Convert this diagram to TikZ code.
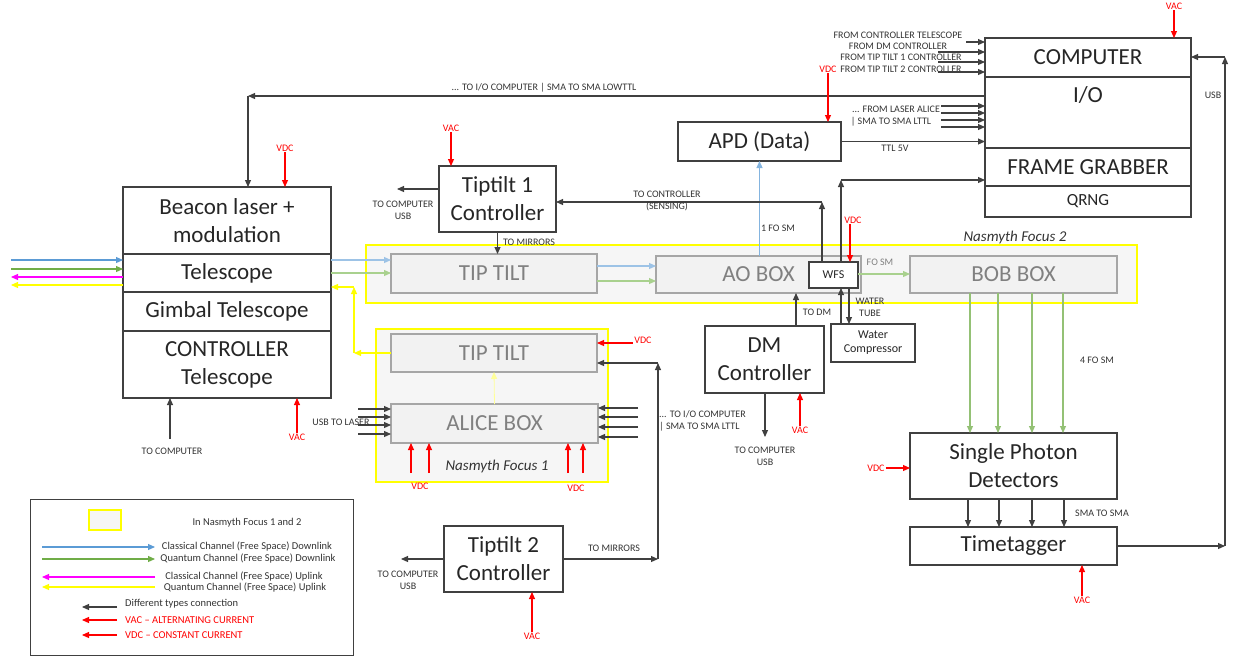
\documentclass[tikz,border=0pt]{standalone}
\usepackage{fontspec}
\setmainfont{Carlito}
\usepackage{tikz}
\usetikzlibrary{positioning,arrows.meta}
\definecolor{boxline}{HTML}{404040}
\definecolor{inline}{HTML}{A6A6A6}
\definecolor{infill}{HTML}{F2F2F2}
\definecolor{intext}{HTML}{808080}
\definecolor{nasfill}{HTML}{F6F6F6}
\definecolor{nasline}{HTML}{FFFF00}
\definecolor{lbltext}{HTML}{333333}
\definecolor{clblue}{HTML}{5B9BD5}
\definecolor{clbluel}{HTML}{9DC3E6}
\definecolor{qugreen}{HTML}{70AD47}
\definecolor{qugreenl}{HTML}{A9D18E}
\definecolor{upmag}{HTML}{FF00FF}
\definecolor{upyel}{HTML}{FFFF00}
\definecolor{upyelp}{HTML}{FFFF99}
\definecolor{pwrred}{HTML}{FF0000}
\tikzset{
  blk/.style={draw=boxline, line width=1.2pt, fill=white, text=black!85, font=\fontsize{23}{28}\selectfont, align=center, inner sep=0pt, outer sep=0pt},
  blktxt/.style={text=black!85, font=\fontsize{23}{28}\selectfont, inner sep=0pt},
  inbox/.style={draw=inline, line width=1.2pt, fill=infill, text=intext, font=\fontsize{23}{28}\selectfont, inner sep=0pt, outer sep=0pt},
  nasbox/.style={draw=nasline, line width=1.5pt, fill=nasfill, inner sep=0pt},
  nastxt/.style={font=\fontsize{15}{18}\selectfont\itshape, text=black!80, inner sep=0pt},
  lbl/.style={font=\fontsize{10}{12}\selectfont, text=lbltext, align=center, inner sep=0pt},
  lgtxt/.style={lbl, font=\fontsize{10.5}{12}\selectfont},
  pwrlbl/.style={font=\fontsize{10}{12}\selectfont, text=pwrred, inner sep=1pt},
  conn/.style={-{Triangle[length=7pt,width=6pt]}, line width=1.1pt, draw=boxline},
  pwr/.style={conn, draw=pwrred},
  dlb/.style={conn, draw=clblue},
  dlbl/.style={conn, draw=clbluel},
  dlg/.style={conn, draw=qugreen},
  dlgl/.style={conn, draw=qugreenl},
  ulm/.style={conn, draw=upmag},
  uly/.style={conn, draw=upyel},
  ulyp/.style={conn, draw=upyelp},
}
\begin{document}
\begin{tikzpicture}[x=1pt,y=-1pt]
\useasboundingbox (0,0) rectangle (1235,657);

% Nasmyth areas
\node[nasbox, minimum width=771, minimum height=58] (nas2) at (751.5,274) {};
\node[nasbox, minimum width=232, minimum height=153] (nas1) at (492,405.5) {};
\node[nastxt] (nas2lbl) at (1015,237) {Nasmyth Focus 2};
\node[nastxt] (nas1lbl) at (497,466) {Nasmyth Focus 1};

% telescope stack
\node[blk, minimum width=208, minimum height=67] (beacon) at (227,220.5) {Beacon laser +\\modulation};
\node[blk, minimum width=208, minimum height=38, below=0pt of beacon] (tel) {Telescope};
\node[blk, minimum width=208, minimum height=39, below=0pt of tel] (gimbal) {Gimbal Telescope};
\node[blk, minimum width=208, minimum height=67, below=0pt of gimbal] (ctrl) {CONTROLLER\\Telescope};

% computer stack
\node[blk, minimum width=206, minimum height=39] (comp) at (1088,57.5) {COMPUTER};
\node[blk, minimum width=206, minimum height=71, below=0pt of comp] (io) {};
\node[blktxt, below=9pt of io.north] (iolbl) {I/O};
\node[blk, minimum width=206, minimum height=38, below=0pt of io] (fg) {FRAME GRABBER};
\node[blk, minimum width=206, minimum height=31, below=0pt of fg, font=\fontsize{17}{20}\selectfont] (qrng) {QRNG};

% other blocks
\node[blk, minimum width=163, minimum height=39] (apd) at (759.5,141.5) {APD (Data)};
\node[blk, minimum width=117, minimum height=66] (tt1c) at (497.5,199) {Tiptilt 1\\Controller};
\node[blk, minimum width=119, minimum height=66] (tt2c) at (503.5,559) {Tiptilt 2\\Controller};
\node[blk, minimum width=119, minimum height=67] (dmc) at (764.5,359.5) {DM\\Controller};
\node[blk, minimum width=84, minimum height=38, font=\fontsize{12}{14}\selectfont] (water) at (873,343) {Water\\Compressor};
\node[blk, minimum width=207, minimum height=66] (spd) at (1013.5,466) {Single Photon\\Detectors};
\node[blk, minimum width=207, minimum height=38, below=28pt of spd] (tagger) {Timetagger};

% optical boxes
\node[inbox, minimum width=206, minimum height=39] (tt1) at (494,273.5) {TIP TILT};
\node[inbox, minimum width=205, minimum height=37] (ao) at (758.5,274.5) {AO BOX};
\node[blk, minimum width=49, minimum height=26, font=\fontsize{12}{14}\selectfont] (wfs) at (833.5,275) {WFS};
\node[inbox, minimum width=207, minimum height=37] (bob) at (1013.5,274.5) {BOB BOX};
\node[inbox, minimum width=206, minimum height=38] (tt2) at (494,353) {TIP TILT};
\node[inbox, minimum width=207, minimum height=39] (alice) at (494.5,423.5) {ALICE BOX};

% free space links
\coordinate (skyb) at (11,260);
\coordinate (skyg) at (11,269);
\coordinate (skym) at (11,277);
\coordinate (skyy) at (11,285);
\draw[dlb] (skyb) -- (skyb -| tel.west);
\draw[dlg] (skyg) -- (skyg -| tel.west);
\draw[ulm] (skym -| tel.west) -- (skym);
\draw[uly] (skyy -| tel.west) -- (skyy);
\draw[dlbl] (tel.east |- 0,260) -- (tt1.west |- 0,260);
\draw[dlgl] (tel.east |- 0,273) -- (tt1.west |- 0,273);
\draw[dlbl] (tt1.east |- 0,266) -- (ao.west |- 0,266);
\draw[dlgl] (tt1.east |- 0,281) -- (ao.west |- 0,281);
\draw[dlgl] (wfs.east |- 0,274) -- (bob.west |- 0,274);
\node[lbl, text=intext] (fosm) at (880,262) {FO SM};
\draw[dlb, draw=clblue!75] (ao.north -| apd.south) -- (apd.south);
\node[lbl] (fosm1) at (778,228) {1 FO SM};
\foreach \xx in {970,998,1032,1063}
  \draw[dlgl, draw=qugreen!75] (bob.south -| \xx,0) -- (spd.north -| \xx,0);
\node[lbl] (fosm4) at (1097,360) {4 FO SM};

% uplink from Nasmyth 1
\coordinate (upa) at (354,353);
\coordinate (upb) at (354,287);
\draw[uly] (tt2.west) -- (upa);
\draw[uly] (upa) -- (upb);
\draw[uly] (upb) -- (upb -| tel.east);
\draw[ulyp, line width=0.8pt] (alice.north) -- (tt2.south);

% telescope connections
\coordinate (ioline) at (248,96);
\draw[conn] (ioline -| io.west) -- (ioline);
\draw[conn] (ioline) -- (ioline |- beacon.north);
\node[lbl] (lowttl) at (544,88) {... TO I/O COMPUTER | SMA TO SMA LOWTTL};
\coordinate (ctcomp) at (170,439);
\draw[conn] (ctcomp) -- (ctcomp |- ctrl.south);
\node[lbl] (ctcompl) at (172,451) {TO COMPUTER};
\node[pwrlbl] (vdcb) at (285,148) {VDC};
\draw[pwr] (vdcb.south) -- (vdcb.south |- beacon.north);
\node[pwrlbl] (vacct) at (297,437) {VAC};
\draw[pwr] (vacct.north) -- (vacct.north |- ctrl.south);

% tiptilt 1 controller
\node[pwrlbl] (vactt1) at (451,128) {VAC};
\draw[pwr] (vactt1.south) -- (vactt1.south |- tt1c.north);
\coordinate (tt1usb) at (397,189);
\draw[conn] (tt1c.west |- tt1usb) -- (tt1usb);
\node[lbl] (tt1usbl) at (403,210) {TO COMPUTER\\USB};
\draw[conn] (tt1c.south) -- (tt1c.south |- tt1.north);
\node[lbl] (tomir1) at (529,242) {TO MIRRORS};
\coordinate (sens) at (822,202);
\draw[conn] (wfs.north -| sens) -- (sens);
\draw[conn] (sens) -- (sens -| tt1c.east);
\node[lbl] (sensl) at (667,201) {TO CONTROLLER\\(SENSING)};

% WFS, water and DM
\coordinate (fgin) at (841,180);
\draw[conn] (wfs.north -| fgin) -- (fgin);
\draw[conn] (fgin) -- (fgin -| fg.west);
\draw[conn] (water.north -| fgin) -- (wfs.south -| fgin);
\draw[conn] ([xshift=15.5]wfs.south) -- ([xshift=15.5]wfs.south |- water.north);
\node[lbl] (tube) at (870,307) {WATER\\TUBE};
\node[pwrlbl] (vdcw) at (853,220) {VDC};
\draw[pwr] ([xshift=-3]vdcw.south) -- ([xshift=-3]vdcw.south |- wfs.north);
\draw[conn] (dmc.north -| 796,0) -- (ao.south -| 796,0);
\node[lbl] (todm) at (817,312) {TO DM};
\coordinate (dmusb) at (765,437);
\draw[conn] (dmc.south -| dmusb) -- (dmusb);
\node[lbl] (dmusbl) at (765,456) {TO COMPUTER\\USB};
\node[pwrlbl] (vacdm) at (800,430) {VAC};
\draw[pwr] (vacdm.north) -- (vacdm.north |- dmc.south);

% APD and computer inputs
\node[pwrlbl] (vdcapd) at (828,69) {VDC};
\draw[pwr] (vdcapd.south) -- (vdcapd.south |- apd.north);
\draw[conn] (apd.east) -- (apd.east -| io.west);
\node[lbl] (ttl) at (895,148) {TTL 5V};
\node[lbl] (fct) at (898,35) {FROM CONTROLLER TELESCOPE};
\node[lbl] (fdm) at (898,46) {FROM DM CONTROLLER};
\node[lbl] (ft1) at (901,57) {FROM TIP TILT 1 CONTROLLER};
\node[lbl] (ft2) at (901,69) {FROM TIP TILT 2 CONTROLLER};
\foreach \xx/\yy [count=\i] in {966/42,938/52,938/62,938/72} {
  \coordinate (fin\i) at (\xx,\yy);
  \draw[conn] (fin\i) -- (fin\i -| comp.west);
}
\node[lbl] (fla) at (896,109) {... FROM LASER ALICE};
\node[lbl] (flb) at (891,122) {| SMA TO SMA LTTL};
\foreach \yy [count=\i] in {106,113,120,127} {
  \coordinate (lin\i) at (941,\yy);
  \draw[conn] (lin\i) -- (lin\i -| io.west);
}
\node[pwrlbl] (vacc) at (1174,6) {VAC};
\draw[pwr] (vacc.south) -- (vacc.south |- comp.north);

% detectors and timetagger
\foreach \xx in {968,999,1032,1064}
  \draw[conn] (spd.south -| \xx,0) -- (tagger.north -| \xx,0);
\node[lbl] (smasma) at (1102,513) {SMA TO SMA};
\node[pwrlbl] (vdcspd) at (876,468) {VDC};
\draw[pwr] (vdcspd.east) -- (vdcspd.east -| spd.west);
\node[pwrlbl] (vactag) at (1082,600) {VAC};
\draw[pwr] (vactag.north) -- (vactag.north |- tagger.south);
\coordinate (usba) at (1225,546);
\coordinate (usbb) at (1225,57);
\draw[conn] (tagger.east) -- (usba);
\draw[conn] (usba) -- (usbb);
\draw[conn] (usbb) -- (usbb -| comp.east);
\node[lbl] (usbl) at (1213,95) {USB};

% Nasmyth 1 connections
\node[pwrlbl] (vdctt2) at (643,340) {VDC};
\draw[pwr] ([yshift=-3]vdctt2.west) -- ([yshift=-3]vdctt2.west -| tt2.east);
\coordinate (mira) at (658,559);
\coordinate (mirb) at (658,363);
\draw[conn] (tt2c.east) -- (mira);
\draw[conn] (mira) -- (mirb);
\draw[conn] (mirb) -- (mirb -| tt2.east);
\node[lbl] (tomir2) at (614,548) {TO MIRRORS};
\foreach \yy [count=\i] in {408,417,427,437} {
  \coordinate (ain\i) at (638,\yy);
  \draw[conn] (ain\i) -- (ain\i -| alice.east);
}
\node[lbl, anchor=west] (aliceio) at (659,414) {... TO I/O COMPUTER};
\node[lbl, anchor=west] (alicesma) at (659,427) {| SMA TO SMA LTTL};
\foreach \yy [count=\i] in {409,417,425,434} {
  \coordinate (lsr\i) at (358,\yy);
  \draw[conn] (lsr\i) -- (lsr\i -| alice.west);
}
\node[lbl] (usblaser) at (341,422) {USB TO LASER};
\foreach \xx in {411,429,568,583} {
  \coordinate (avdc\xx) at (\xx,473);
  \draw[pwr] (avdc\xx) -- (avdc\xx |- alice.south);
}
\node[pwrlbl] (avdcl) at (420,486) {VDC};
\node[pwrlbl] (avdcr) at (576,488) {VDC};

% tiptilt 2 controller
\coordinate (tt2usb) at (401,559);
\draw[conn] (tt2c.west) -- (tt2usb);
\node[lbl] (tt2usbl) at (408,580) {TO COMPUTER\\USB};
\node[pwrlbl] (vactt2) at (532,636) {VAC};
\draw[pwr] (vactt2.north) -- (vactt2.north |- tt2c.south);

% legend
\node[draw=boxline, line width=0.8pt, minimum width=323, minimum height=156, anchor=north west] (legend) at (30,499) {};
\node[nasbox, minimum width=32, minimum height=20] (lgnas) at (105,520) {};
\node[lgtxt] (lgnast) at (247,523) {In Nasmyth Focus 1 and 2};
\coordinate (lga) at (42,547);
\coordinate (lgb) at (42,559);
\coordinate (lgc) at (42,577);
\coordinate (lgd) at (42,587);
\draw[dlb] (lga) -- ++(113,0);
\draw[dlg] (lgb) -- ++(113,0);
\draw[ulm] ([xshift=113]lgc) -- (lgc);
\draw[uly] ([xshift=113]lgd) -- (lgd);
\node[lgtxt] (lgat) at (247,546) {Classical Channel (Free Space) Downlink};
\node[lgtxt] (lgbt) at (248,558) {Quantum Channel (Free Space) Downlink};
\node[lgtxt] (lgct) at (244,576) {Classical Channel (Free Space) Uplink};
\node[lgtxt] (lgdt) at (245,587) {Quantum Channel (Free Space) Uplink};
\coordinate (lge) at (82,607);
\coordinate (lgf) at (82,620);
\coordinate (lgg) at (82,635);
\draw[conn] ([xshift=35]lge) -- (lge);
\draw[pwr] ([xshift=35]lgf) -- (lgf);
\draw[pwr] ([xshift=35]lgg) -- (lgg);
\node[lgtxt, anchor=west] (lget) at (125,604) {Different types connection};
\node[lgtxt, anchor=west, text=pwrred] (lgft) at (125,620) {VAC – ALTERNATING CURRENT};
\node[lgtxt, anchor=west, text=pwrred] (lggt) at (125,635) {VDC – CONSTANT CURRENT};
\end{tikzpicture}
\end{document}
